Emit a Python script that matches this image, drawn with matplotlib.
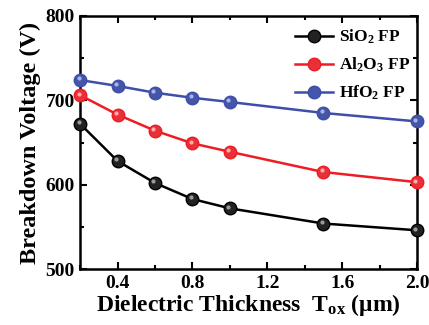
import matplotlib
matplotlib.use("Agg")
import matplotlib.pyplot as plt
import matplotlib.transforms as mtransforms
from matplotlib.ticker import MultipleLocator

plt.rcParams['font.family'] = ['Liberation Serif', 'DejaVu Serif']
plt.rcParams['font.weight'] = 'bold'
plt.rcParams['mathtext.fontset'] = 'custom'
plt.rcParams['mathtext.rm'] = 'Liberation Serif:bold'
plt.rcParams['mathtext.it'] = 'Liberation Serif:bold'
plt.rcParams['mathtext.bf'] = 'Liberation Serif:bold'

# --- data ---
thickness = [0.2, 0.4, 0.6, 0.8, 1.0, 1.5, 2.0]
sio2 = [672, 628, 602, 583, 572, 554, 546]
al2o3 = [706, 683, 664, 649, 639, 615, 603]
hfo2 = [724, 717, 709, 703, 698, 685, 675]

series = [
    (sio2, r'SiO$_2$ FP', 'black', '#222222', '#9a9a9a'),
    (al2o3, r'Al$_2$O$_3$ FP', '#ee1c24', '#e83038', '#ffaaaa'),
    (hfo2, r'HfO$_2$ FP', '#3d4fa8', '#4455aa', '#a8b4e8'),
]

fig = plt.figure(figsize=(4.29, 3.25), dpi=100)
ax = fig.add_axes([0.187, 0.172, 0.785, 0.779])

# small offset for the sphere highlight
shift = mtransforms.ScaledTranslation(-1.2 / 72, 1.2 / 72, fig.dpi_scale_trans)

for vals, label, col, face, hi in series:
    ax.plot(thickness, vals, color=col, lw=1.8, marker='o', ms=9,
            mfc=face, mec=col, mew=1.0, label=label, clip_on=False, zorder=3)
    ax.plot(thickness, vals, ls='none', marker='o', ms=3, mfc=hi, mec='none',
            clip_on=False, zorder=4, transform=ax.transData + shift)

ax.set_xlim(0.2, 2.0)
ax.set_ylim(500, 800)
ax.xaxis.set_minor_locator(MultipleLocator(0.2))
ax.yaxis.set_major_locator(MultipleLocator(100))
ax.yaxis.set_minor_locator(MultipleLocator(50))
ax.set_xticks([0.4, 0.8, 1.2, 1.6, 2.0])
ax.set_xticklabels(['0.4', '0.8', '1.2', '1.6', '2.0'])

ax.tick_params(which='both', direction='in', top=True, right=True, width=1.5)
ax.tick_params(which='major', length=5, labelsize=14, pad=4)
ax.tick_params(which='minor', length=3)
for s in ax.spines.values():
    s.set_linewidth(1.8)

ax.set_xlabel(r'Dielectric Thickness  T$_{ox}$ ($\mathrm{\mu}$m)', fontsize=17,
              fontweight='bold', labelpad=0)
ax.set_ylabel('Breakdown Voltage (V)', fontsize=17.5, fontweight='bold', labelpad=3)

leg = ax.legend(loc='upper right', bbox_to_anchor=(1.015, 1.0), frameon=False,
                fontsize=12.5, handlelength=2.2, handletextpad=0.3,
                labelspacing=0.55, borderaxespad=0.3)

fig.savefig('out.png', dpi=100)
